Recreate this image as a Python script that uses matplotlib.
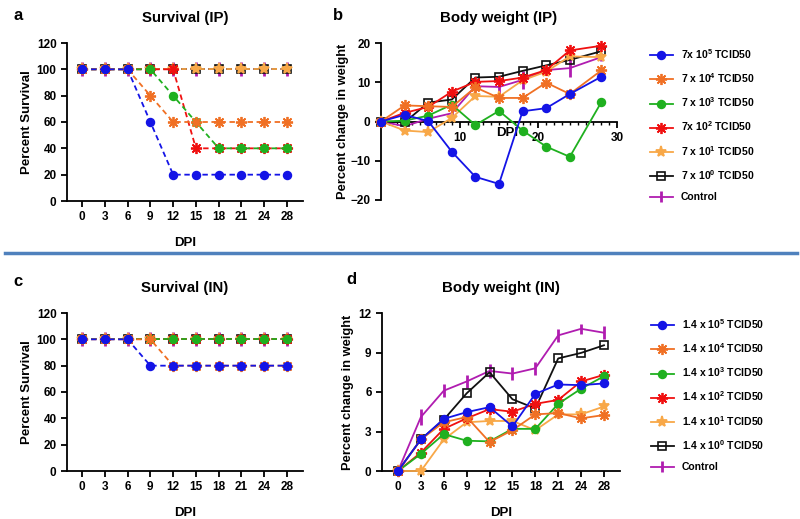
import matplotlib
matplotlib.use('Agg')
import matplotlib.pyplot as plt
from matplotlib.lines import Line2D
from matplotlib.ticker import MultipleLocator

plt.rcParams['font.family'] = ['Liberation Sans', 'DejaVu Sans']
plt.rcParams['font.weight'] = 'bold'
plt.rcParams['axes.labelweight'] = 'bold'
plt.rcParams['axes.titleweight'] = 'bold'
plt.rcParams['mathtext.fontset'] = 'custom'
plt.rcParams['mathtext.rm'] = 'Liberation Sans:bold'
plt.rcParams['mathtext.bf'] = 'Liberation Sans:bold'
plt.rcParams['mathtext.it'] = 'Liberation Sans:bold'

# ---------------- data ----------------
days = [0, 3, 6, 9, 12, 15, 18, 21, 24, 28]
day_labels = [str(d) for d in days]

ip_labels = ['7x 10$^{5}$ TCID50', '7 x 10$^{4}$ TCID50', '7 x 10$^{3}$ TCID50',
             '7x 10$^{2}$ TCID50', '7 x 10$^{1}$ TCID50', '7 x 10$^{0}$ TCID50', 'Control']
in_labels = ['1.4 x 10$^{5}$ TCID50', '1.4 x 10$^{4}$ TCID50', '1.4 x 10$^{3}$ TCID50',
             '1.4 x 10$^{2}$ TCID50', '1.4 x 10$^{1}$ TCID50', '1.4 x 10$^{0}$ TCID50', 'Control']

# Survival (IP)
surv_ip_e5 = [100, 100, 100, 60, 20, 20, 20, 20, 20, 20]
surv_ip_e4 = [100, 100, 100, 80, 60, 60, 60, 60, 60, 60]
surv_ip_e3 = [100, 100, 100, 100, 80, 60, 40, 40, 40, 40]
surv_ip_e2 = [100, 100, 100, 100, 100, 40, 40, 40, 40, 40]
surv_ip_e1 = [100, 100, 100, 100, 100, 100, 100, 100, 100, 100]
surv_ip_e0 = [100, 100, 100, 100, 100, 100, 100, 100, 100, 100]
surv_ip_ctrl = [100, 100, 100, 100, 100, 100, 100, 100, 100, 100]

# Body weight (IP)
wt_ip_e5 = [0, 1.7, 0.1, -7.7, -14.1, -15.9, 2.6, 3.4, 7.0, 11.4]
wt_ip_e4 = [0, 4.1, 3.9, 3.7, 8.7, 6.0, 6.0, 9.9, 7.0, 13.0]
wt_ip_e3 = [0, 0.2, 1.5, 4.3, -0.9, 2.7, -2.3, -6.4, -9.0, 4.9]
wt_ip_e2 = [0, 2.2, 3.7, 7.6, 10.1, 10.3, 11.2, 13.1, 18.1, 19.3]
wt_ip_e1 = [0, -2.3, -2.7, 0.9, 6.5, 6.3, 10.5, 12.7, 16.6, 16.4]
wt_ip_e0 = [0, -0.2, 4.8, 5.6, 11.2, 11.4, 12.9, 14.3, 15.7, 17.9]
wt_ip_ctrl = [0, -1.2, 0.7, 2.1, 9.0, 8.8, 10.6, 13.1, 13.6, 16.4]
wt_ip_ctrl_err = [1.0, 1.2, 0.8, 1.0, 1.2, 1.5, 2.2, 1.0, 2.2, 1.0]

# Survival (IN)
surv_in_e5 = [100, 100, 100, 80, 80, 80, 80, 80, 80, 80]
surv_in_e4 = [100, 100, 100, 100, 80, 80, 80, 80, 80, 80]
surv_in_e3 = [100, 100, 100, 100, 100, 100, 100, 100, 100, 100]
surv_in_e2 = [100, 100, 100, 100, 100, 100, 100, 100, 100, 100]
surv_in_e1 = [100, 100, 100, 100, 100, 100, 100, 100, 100, 100]
surv_in_e0 = [100, 100, 100, 100, 100, 100, 100, 100, 100, 100]
surv_in_ctrl = [100, 100, 100, 100, 100, 100, 100, 100, 100, 100]

# Body weight (IN)
wt_in_e5 = [0, 2.4, 3.96, 4.47, 4.85, 3.38, 5.86, 6.57, 6.52, 6.65]
wt_in_e4 = [0, 2.4, 3.7, 4.1, 2.2, 3.1, 4.3, 4.4, 4.0, 4.25]
wt_in_e3 = [0, 1.3, 2.8, 2.3, 2.25, 3.2, 3.2, 5.1, 6.25, 7.2]
wt_in_e2 = [0, 1.4, 3.2, 4.0, 4.7, 4.5, 5.1, 5.4, 6.8, 7.3]
wt_in_e1 = [0, 0.0, 2.4, 3.7, 3.8, 3.8, 3.1, 4.3, 4.3, 4.9]
wt_in_e0 = [0, 2.4, 3.9, 5.9, 7.5, 5.45, 4.75, 8.55, 8.97, 9.55]
wt_in_ctrl = [0, 4.1, 6.1, 6.8, 7.6, 7.4, 7.8, 10.3, 10.8, 10.5]
wt_in_ctrl_err = [0.4, 0.6, 0.5, 0.5, 0.5, 0.5, 0.5, 0.5, 0.4, 0.5]

# ---------------- styles ----------------
colors = ['#1414e6', '#f07024', '#1fb01f', '#f01010', '#f8a848', '#111111', '#b01cb0']
markers = ['o', (8, 2, 0), 'o', (8, 2, 0), '*', 's', '|']
msizes = [5.5, 8, 5.5, 8, 8, 5.5, 10]

fig = plt.figure(figsize=(8, 5.19), dpi=100)
W, H = 800, 519


def axes_px(left, top, right, bottom):
    return fig.add_axes([left / W, 1 - bottom / H, (right - left) / W, (bottom - top) / H])


def style_axes(ax):
    for s in ['top', 'right']:
        ax.spines[s].set_visible(False)
    for s in ['left', 'bottom']:
        ax.spines[s].set_linewidth(1.3)
    ax.tick_params(axis='both', which='major', labelsize=8.5, width=1.3, length=4, direction='out')


def marker_kw(i):
    kw = dict(marker=markers[i], markersize=msizes[i], color=colors[i],
              markeredgecolor=colors[i], markerfacecolor=colors[i], markeredgewidth=1.3)
    if i == 5:
        kw['markerfacecolor'] = 'none'
        kw['markeredgewidth'] = 1.2
    if i == 6:
        kw['markeredgewidth'] = 2.0
    return kw


def survival(ax, series, title):
    xs = list(range(len(days)))
    for i in reversed(range(7)):
        ax.plot(xs, series[i], linestyle=(0, (3, 2)), linewidth=1.3, clip_on=False,
                zorder=3 + (7 - i), **marker_kw(i))
    style_axes(ax)
    ax.set_xlim(-0.66, 9.7)
    ax.set_ylim(0, 120)
    ax.set_yticks([0, 20, 40, 60, 80, 100, 120])
    ax.set_xticks(xs)
    ax.set_xticklabels(day_labels)
    ax.set_title(title, fontsize=10.8, pad=15)
    ax.set_ylabel('Percent Survival', fontsize=9.5, labelpad=3)
    ax.set_xlabel('DPI', fontsize=9.5, labelpad=10)


def weight_lines(ax, xs, series, ctrl_err):
    handles = [None] * 7
    for i in reversed(range(7)):
        if i == 6:
            h = ax.errorbar(xs, series[i], yerr=ctrl_err, color=colors[i], linewidth=1.3,
                            elinewidth=2.0, capsize=0, clip_on=False, zorder=3)
            for art in h.lines[2]:
                art.set_clip_on(False)
            handles[i] = h
        else:
            (h,) = ax.plot(xs, series[i], linestyle='-', linewidth=1.3, clip_on=False,
                           zorder=3 + (7 - i), **marker_kw(i))
            handles[i] = h
    return handles


# ---------- panel a ----------
ax_a = axes_px(67, 43, 303, 201)
survival(ax_a, [surv_ip_e5, surv_ip_e4, surv_ip_e3, surv_ip_e2, surv_ip_e1, surv_ip_e0, surv_ip_ctrl],
         'Survival (IP)')

# ---------- panel c ----------
ax_c = axes_px(67, 313, 303, 471)
survival(ax_c, [surv_in_e5, surv_in_e4, surv_in_e3, surv_in_e2, surv_in_e1, surv_in_e0, surv_in_ctrl],
         'Survival (IN)')

# ---------- panel b ----------
ax_b = axes_px(381, 43, 617, 200)
hb = weight_lines(ax_b, days, [wt_ip_e5, wt_ip_e4, wt_ip_e3, wt_ip_e2, wt_ip_e1, wt_ip_e0, wt_ip_ctrl],
                  wt_ip_ctrl_err)
style_axes(ax_b)
ax_b.spines['bottom'].set_position(('data', 0))
ax_b.set_xlim(0, 30)
ax_b.set_ylim(-20, 20)
ax_b.set_xticks([10, 20, 30])
ax_b.xaxis.set_minor_locator(MultipleLocator(1))
ax_b.tick_params(axis='x', which='minor', length=2, width=1.0)
ax_b.set_yticks([-20, -10, 0, 10, 20])
ax_b.set_title('Body weight (IP)', fontsize=10.8, pad=15)
ax_b.set_ylabel('Percent change in weight', fontsize=9.3, labelpad=1)
ax_b.text(16, -1.3, 'DPI', fontsize=9.5, fontweight='bold', ha='center', va='top')

# ---------- panel d ----------
ax_d = axes_px(382, 313, 620, 471)
xs_idx = list(range(len(days)))
hd = weight_lines(ax_d, xs_idx, [wt_in_e5, wt_in_e4, wt_in_e3, wt_in_e2, wt_in_e1, wt_in_e0, wt_in_ctrl],
                  wt_in_ctrl_err)
style_axes(ax_d)
ax_d.set_xlim(-0.7, 9.7)
ax_d.set_ylim(0, 12)
ax_d.set_yticks([0, 3, 6, 9, 12])
ax_d.set_xticks(xs_idx)
ax_d.set_xticklabels(day_labels)
ax_d.set_title('Body weight (IN)', fontsize=10.8, pad=15)
ax_d.set_ylabel('Percent change in weight', fontsize=9.3, labelpad=3)
ax_d.set_xlabel('DPI', fontsize=9.5, labelpad=10)

# ---------- legends ----------
leg_kw = dict(frameon=False, loc='upper left', fontsize=7.5, labelspacing=1.0,
              handlelength=2.2, handletextpad=0.75, borderpad=0, borderaxespad=0)
fig.legend(hb, ip_labels, bbox_to_anchor=(650 / W, 1 - 47 / H), **leg_kw)
fig.legend(hd, in_labels, bbox_to_anchor=(651 / W, 1 - 317 / H), **leg_kw)

# ---------- panel letters ----------
fig.text(13 / W, 1 - 20 / H, 'a', fontsize=12, fontweight='bold')
fig.text(333 / W, 1 - 20 / H, 'b', fontsize=12, fontweight='bold')
fig.text(13 / W, 1 - 286 / H, 'c', fontsize=12, fontweight='bold')
fig.text(346 / W, 1 - 284 / H, 'd', fontsize=12, fontweight='bold')

# ---------- separator ----------
fig.add_artist(Line2D([5 / W, 797 / W], [1 - 253 / H, 1 - 253 / H], color='#4f81bd', linewidth=2.5,
                      transform=fig.transFigure))

fig.savefig('out.png', dpi=100)
